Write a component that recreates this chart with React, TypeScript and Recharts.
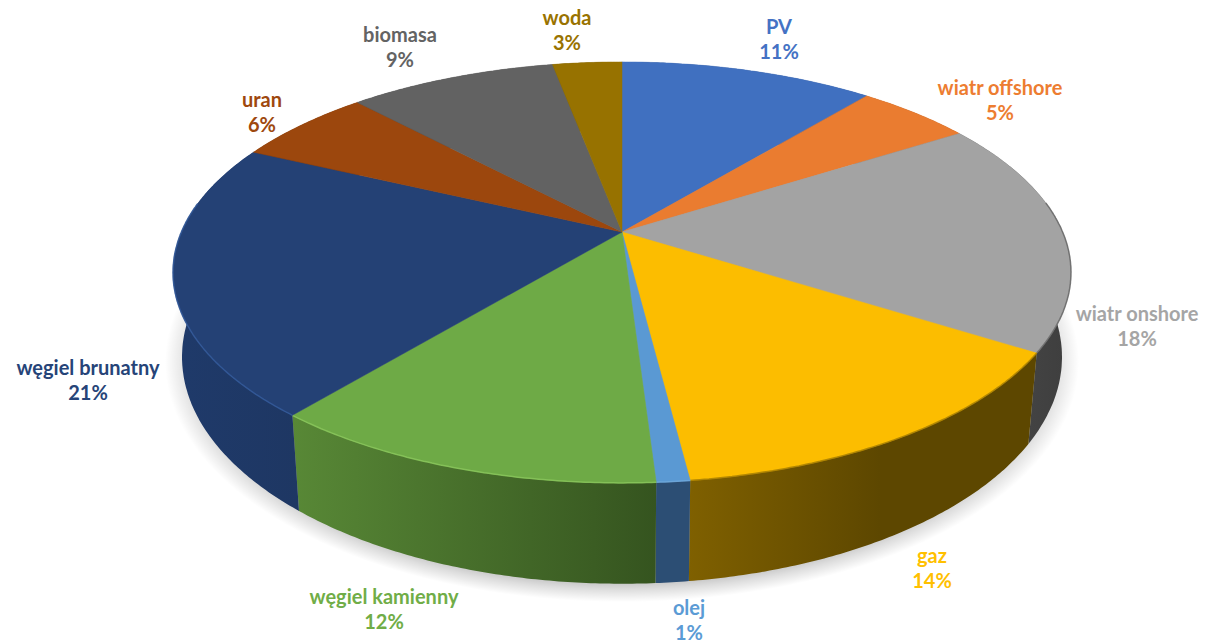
import { PieChart, Pie } from 'recharts';

// Electricity mix, shares in percent, clockwise from 12 o'clock
const names = [
  'PV',
  'wiatr offshore',
  'wiatr onshore',
  'gaz',
  'olej',
  'węgiel kamienny',
  'węgiel brunatny',
  'uran',
  'biomasa',
  'woda',
];
const values = [11, 5, 18, 14, 1, 12, 21, 6, 9, 3];

const topColors = ['#4070C0', '#EA7C30', '#A3A3A3', '#FCBD00', '#5A99D3', '#6EAA46', '#244175', '#9C470D', '#626262', '#977200'];
const labelColors = ['#4472C4', '#ED7D31', '#A5A5A5', '#FFC000', '#5B9BD5', '#70AD47', '#264478', '#9E480E', '#636363', '#997300'];
const rimColors = ['#4070C0', '#EA7C30', '#6A6A6A', '#A98000', '#6FA8DC', '#88C65A', '#33599A', '#9C470D', '#626262', '#977200'];
// side wall gradient: left colour, right colour and where the right colour is reached
const wallLeft = ['#2A4A80', '#8F4C1D', '#4C4C4C', '#7F6000', '#2C4E74', '#588836', '#1F3A6A', '#5F2B08', '#3B3B3B', '#5C4500'];
const wallRight = ['#2A4A80', '#8F4C1D', '#3E3E3E', '#5D4700', '#2C4E74', '#35541F', '#1E3763', '#5F2B08', '#3B3B3B', '#5C4500'];
const wallStop = [1, 1, 1, 0.55, 1, 1, 1, 1, 1, 1];

// label centres of the first line
const labelX = [779, 1000, 1137, 932, 689, 384, 88, 262, 400, 567];
const labelY = [26, 87, 313, 555, 607, 596, 367, 99, 34, 17];
const LINE_GAP = 25;

const WIDTH = 1223;
const HEIGHT = 643;
const CX = 622;
const CY = 232;
const RX = 440.6;
const RY = 202.7;
const TILT = 0.192; // perspective foreshortening towards the back
const DEPTH = 81.5;
const BASE_SCALE = 0.98;

const table = names.map((name, i) => ({ name, value: values[i], fill: topColors[i] }));

// recharts angle (degrees, counter-clockwise from 3 o'clock) to screen point on the top disc
function project(angle: number, cx: number, cy: number, r: number) {
  const rad = (angle * Math.PI) / 180;
  const u = Math.cos(rad);
  const v = Math.sin(rad);
  const w = 1 + TILT * v;
  return { x: cx + (r * u) / w, y: cy - ((r * RY) / RX) * (v / w), w, v };
}

function projectBase(angle: number, cx: number, cy: number, r: number) {
  const p = project(angle, cx, cy, r);
  return { x: cx + (p.x - cx) * BASE_SCALE, y: p.y + DEPTH / p.w };
}

function arcPoints<T>(start: number, end: number, at: (a: number) => T) {
  const steps = Math.max(2, Math.ceil(Math.abs(end - start) / 0.5));
  const pts: T[] = [];
  for (let i = 0; i <= steps; i++) pts.push(at(start + ((end - start) * i) / steps));
  return pts;
}

const toPath = (pts: { x: number; y: number }[]) =>
  pts.map((p, i) => `${i ? 'L' : 'M'}${p.x.toFixed(1)} ${p.y.toFixed(1)}`).join(' ');

function TopSector(props: any) {
  const { cx, cy, outerRadius, startAngle, endAngle, name, fill } = props;
  const i = names.indexOf(name);
  const arc = arcPoints(startAngle, endAngle, (a) => project(a, cx, cy, outerRadius));
  // the bevel only catches light on the near part of the rim
  const rim = arc.filter((p) => p.v < 0.15);
  return (
    <g>
      <path d={`M${cx} ${cy} ${toPath(arc).replace('M', 'L')} Z`} fill={fill} stroke={fill} strokeWidth={0.5} />
      {rim.length > 1 && <path d={toPath(rim)} fill="none" stroke={rimColors[i]} strokeWidth={1.5} strokeOpacity={0.85} />}
    </g>
  );
}

function WallSector(props: any) {
  const { cx, cy, outerRadius, startAngle, endAngle, name } = props;
  const i = names.indexOf(name);
  const top = arcPoints(startAngle, endAngle, (a) => project(a, cx, cy, outerRadius));
  const base = arcPoints(endAngle, startAngle, (a) => projectBase(a, cx, cy, outerRadius));
  return (
    <g>
      <defs>
        <linearGradient id={`wall-${i}`} x1="0" y1="0" x2="1" y2="0">
          <stop offset="0" stopColor={wallLeft[i]} />
          <stop offset={wallStop[i]} stopColor={wallRight[i]} />
        </linearGradient>
      </defs>
      <path d={`${toPath(top)} ${toPath(base).replace('M', 'L')} Z`} fill={`url(#wall-${i})`} />
    </g>
  );
}

function renderLabel(props: any) {
  const i = names.indexOf(props.name);
  return (
    <text
      x={labelX[i]}
      y={labelY[i]}
      textAnchor="middle"
      dominantBaseline="central"
      fill={labelColors[i]}
      fontFamily="Lato, sans-serif"
      fontWeight={700}
      fontSize={20}
    >
      <tspan x={labelX[i]} y={labelY[i]}>{names[i]}</tspan>
      <tspan x={labelX[i]} y={labelY[i] + LINE_GAP}>{`${values[i]}%`}</tspan>
    </text>
  );
}

export default function App() {
  return (
    <div style={{ position: 'absolute', left: 0, top: 0, width: WIDTH, height: HEIGHT, background: '#fff', overflow: 'hidden' }}>
      {/* soft ground shadow under the disc */}
      <div
        style={{
          position: 'absolute',
          left: 165,
          top: 122,
          width: 914,
          height: 480,
          background:
            'radial-gradient(closest-side, rgba(0,0,0,0.34) 88%, rgba(0,0,0,0.13) 95%, rgba(0,0,0,0) 100%)',
        }}
      />
      <PieChart width={WIDTH} height={HEIGHT} margin={{ top: 0, right: 0, bottom: 0, left: 0 }}>
        <Pie
          data={table}
          dataKey="value"
          nameKey="name"
          cx={CX}
          cy={CY}
          outerRadius={RX}
          startAngle={90}
          endAngle={-270}
          stroke="none"
          shape={WallSector}
          inactiveShape={WallSector}
          activeShape={WallSector}
          isAnimationActive={false}
        />
        <Pie
          data={table}
          dataKey="value"
          nameKey="name"
          cx={CX}
          cy={CY}
          outerRadius={RX}
          startAngle={90}
          endAngle={-270}
          stroke="none"
          shape={TopSector}
          inactiveShape={TopSector}
          activeShape={TopSector}
          label={renderLabel}
          labelLine={false}
          isAnimationActive={false}
        />
      </PieChart>
    </div>
  );
}
